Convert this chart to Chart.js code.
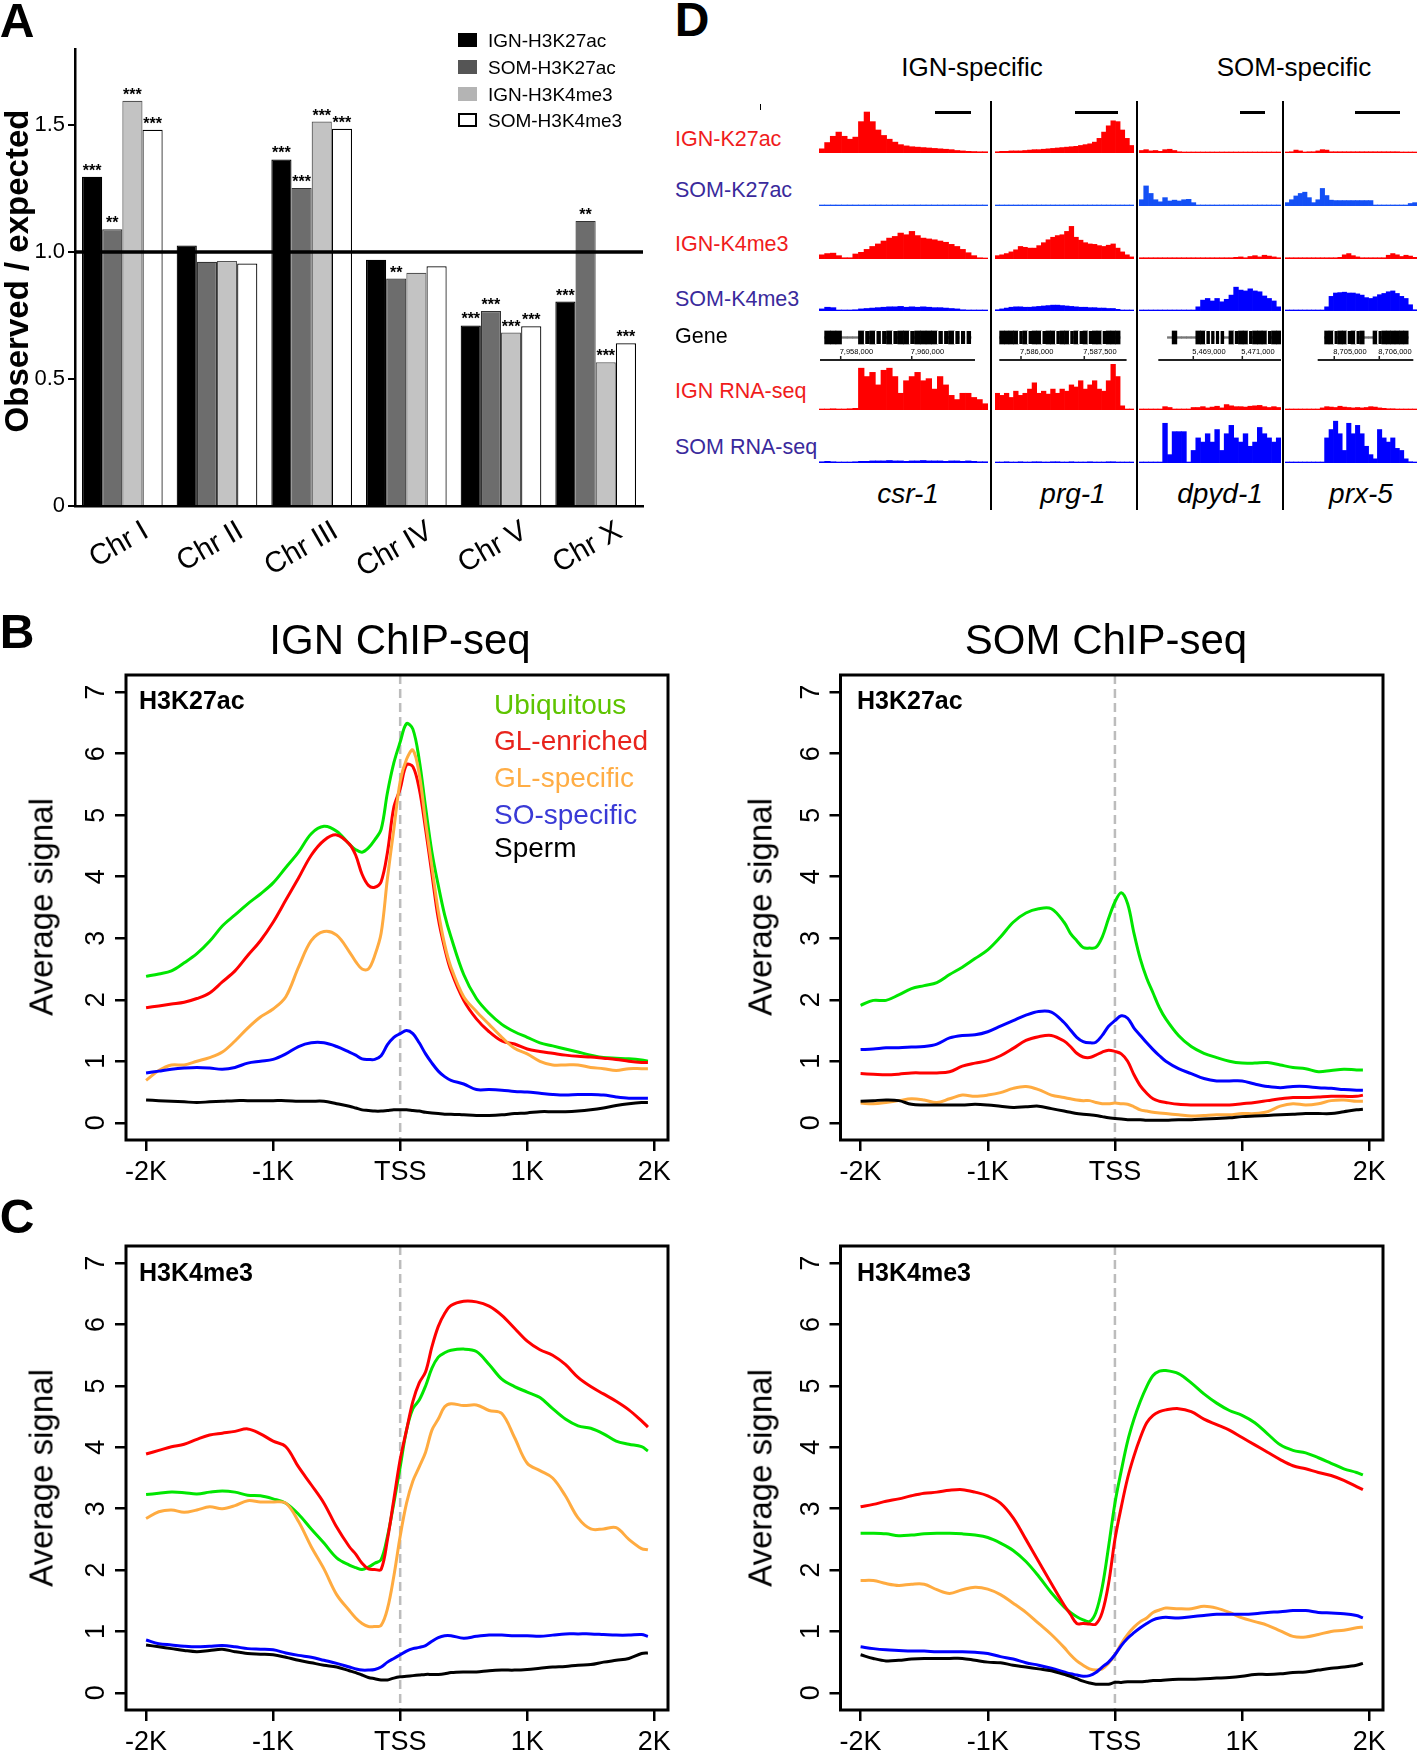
<!DOCTYPE html>
<html><head><meta charset="utf-8">
<script src="https://cdn.jsdelivr.net/npm/chart.js@4.4.0/dist/chart.umd.min.js"></script>
<style>
body{margin:0;background:#fff;}
#page{position:relative;width:1417px;height:1752px;overflow:hidden;background:#fff;font-family:"Liberation Sans",Arial,sans-serif;}
#page canvas{position:absolute;}
.t{position:absolute;white-space:nowrap;line-height:1;}
.ln{position:absolute;background:#000;}
</style></head><body><div id="page"></div>
<script>
/* ===== data: panel A ===== */
const chromosomes = ['Chr I', 'Chr II', 'Chr III', 'Chr IV', 'Chr V', 'Chr X'];
const ignK27acRatio = [1.297, 1.026, 1.365, 0.97, 0.711, 0.805];
const somK27acRatio = [1.09, 0.962, 1.253, 0.896, 0.768, 1.123];
const ignK4me3Ratio = [1.596, 0.965, 1.514, 0.919, 0.683, 0.566];
const somK4me3Ratio = [1.482, 0.955, 1.486, 0.944, 0.708, 0.641];
const ignK27acStars = ['***', '', '***', '', '***', '***'];
const somK27acStars = ['**', '', '***', '**', '***', '**'];
const ignK4me3Stars = ['***', '', '***', '', '***', '***'];
const somK4me3Stars = ['***', '', '***', '', '***', '***'];
const ratioTicks = [0, 0.5, 1.0, 1.5];
const ratioSeries = ['IGN-H3K27ac', 'SOM-H3K27ac', 'IGN-H3K4me3', 'SOM-H3K4me3'];

/* ===== data: panels B / C (average signal around TSS) ===== */
const profileX = [-2000,-1900,-1800,-1700,-1600,-1500,-1400,-1300,-1200,-1100,-1000,-900,-800,-700,-600,-500,
  -400,-350,-300,-250,-200,-150,-100,-50,0,50,100,150,200,250,300,350,400,
  500,600,700,800,900,1000,1100,1200,1300,1400,1500,1600,1700,1800,1900,1950];
const profileXTicks = [-2000, -1000, 0, 1000, 2000];
const profileXLabels = ['-2K', '-1K', 'TSS', '1K', '2K'];
const profileYTicks = [0, 1, 2, 3, 4, 5, 6, 7];
const geneClasses = ['Ubiquitous', 'GL-enriched', 'GL-specific', 'SO-specific', 'Sperm'];

// IGN H3K27ac
const ignK27Ubiq = [2.38,2.42,2.47,2.6,2.75,2.95,3.2,3.38,3.56,3.72,3.9,4.15,4.4,4.7,4.82,4.74,4.53,4.44,4.4,4.47,4.6,4.77,5.37,5.85,6.19,6.49,6.4,5.9,5.13,4.4,3.86,3.38,3.02,2.41,2.02,1.78,1.6,1.48,1.39,1.3,1.25,1.2,1.15,1.1,1.06,1.05,1.04,1.02,1.0];
const ignK27GLenr = [1.87,1.9,1.93,1.96,2.02,2.11,2.29,2.47,2.72,2.96,3.26,3.62,3.98,4.35,4.59,4.68,4.53,4.35,4.04,3.86,3.83,3.92,4.4,5.13,5.43,5.82,5.79,5.43,4.77,4.04,3.32,2.84,2.47,1.99,1.69,1.48,1.33,1.28,1.2,1.16,1.13,1.1,1.08,1.07,1.05,1.03,1.0,0.98,0.98];
const ignK27GLspec = [0.69,0.85,0.94,0.94,1.0,1.06,1.15,1.33,1.54,1.72,1.85,2.05,2.53,2.96,3.11,3.05,2.78,2.62,2.5,2.5,2.72,3.08,3.98,4.77,5.55,5.91,6.06,5.67,4.89,4.16,3.44,2.9,2.53,2.05,1.81,1.6,1.39,1.21,1.12,1.0,0.94,0.94,0.94,0.9,0.88,0.85,0.88,0.88,0.88];
const ignK27SOspec = [0.81,0.84,0.87,0.89,0.9,0.89,0.87,0.9,0.97,1.0,1.03,1.12,1.24,1.3,1.3,1.24,1.15,1.1,1.04,1.03,1.03,1.09,1.27,1.39,1.45,1.5,1.45,1.3,1.12,0.97,0.84,0.75,0.69,0.63,0.54,0.54,0.53,0.51,0.5,0.48,0.46,0.45,0.46,0.46,0.45,0.42,0.4,0.4,0.4];
const ignK27Sperm = [0.37,0.36,0.35,0.34,0.33,0.34,0.35,0.36,0.36,0.36,0.36,0.36,0.35,0.35,0.35,0.31,0.27,0.24,0.21,0.2,0.19,0.19,0.2,0.21,0.21,0.21,0.2,0.19,0.17,0.16,0.15,0.14,0.14,0.13,0.12,0.12,0.13,0.15,0.16,0.18,0.18,0.18,0.19,0.21,0.24,0.28,0.31,0.33,0.33];
// SOM H3K27ac
const somK27Ubiq = [1.91,1.99,1.99,2.08,2.18,2.23,2.28,2.41,2.53,2.67,2.81,3.02,3.26,3.41,3.48,3.48,3.26,3.08,2.96,2.85,2.84,2.85,3.02,3.32,3.59,3.74,3.56,3.08,2.66,2.35,2.11,1.87,1.69,1.42,1.24,1.13,1.06,1.0,0.97,0.97,0.98,0.94,0.9,0.88,0.83,0.85,0.87,0.86,0.86];
const somK27GLenr = [0.8,0.79,0.78,0.79,0.81,0.81,0.81,0.83,0.92,0.97,1.01,1.09,1.21,1.34,1.4,1.42,1.33,1.24,1.13,1.07,1.06,1.1,1.15,1.18,1.16,1.12,1.0,0.78,0.6,0.48,0.39,0.35,0.33,0.3,0.29,0.29,0.29,0.29,0.31,0.33,0.36,0.39,0.41,0.41,0.42,0.43,0.43,0.43,0.45];
const somK27GLspec = [0.32,0.31,0.33,0.36,0.39,0.37,0.33,0.39,0.45,0.43,0.45,0.49,0.56,0.59,0.54,0.45,0.41,0.39,0.37,0.36,0.36,0.33,0.31,0.31,0.32,0.31,0.3,0.26,0.21,0.19,0.17,0.16,0.15,0.13,0.11,0.12,0.13,0.13,0.15,0.15,0.18,0.27,0.31,0.29,0.31,0.36,0.37,0.35,0.35];
const somK27SOspec = [1.19,1.2,1.22,1.22,1.23,1.24,1.28,1.38,1.42,1.43,1.48,1.57,1.66,1.75,1.81,1.8,1.63,1.51,1.39,1.32,1.3,1.31,1.42,1.57,1.66,1.74,1.7,1.54,1.42,1.3,1.19,1.09,1.0,0.88,0.8,0.72,0.68,0.68,0.68,0.63,0.59,0.57,0.59,0.59,0.57,0.56,0.54,0.53,0.53];
const somK27Sperm = [0.35,0.36,0.37,0.36,0.3,0.29,0.29,0.29,0.29,0.3,0.29,0.27,0.25,0.26,0.27,0.23,0.19,0.17,0.15,0.14,0.13,0.12,0.1,0.08,0.07,0.06,0.05,0.05,0.05,0.04,0.04,0.04,0.04,0.05,0.05,0.06,0.07,0.08,0.1,0.11,0.12,0.13,0.14,0.15,0.15,0.15,0.18,0.21,0.22];
// IGN H3K4me3
const ignK4Ubiq = [3.23,3.25,3.27,3.26,3.24,3.27,3.29,3.27,3.22,3.21,3.16,3.09,2.91,2.67,2.44,2.2,2.08,2.04,2.01,2.05,2.11,2.17,2.55,3.09,3.68,4.28,4.63,4.77,5.0,5.29,5.47,5.54,5.58,5.6,5.56,5.35,5.11,4.99,4.9,4.81,4.63,4.46,4.35,4.31,4.22,4.1,4.05,4.01,3.94];
const ignK4GLenr = [3.89,3.95,4.01,4.05,4.13,4.2,4.23,4.26,4.3,4.22,4.1,4.01,3.68,3.39,3.09,2.7,2.38,2.26,2.11,2.02,2.01,2.01,2.5,3.15,3.8,4.28,4.75,5.05,5.23,5.64,5.97,6.18,6.31,6.38,6.37,6.3,6.15,5.94,5.73,5.59,5.5,5.35,5.14,4.99,4.87,4.75,4.61,4.43,4.33];
const ignK4GLspec = [2.84,2.95,2.98,2.94,2.98,3.03,3.0,3.05,3.13,3.11,3.11,3.09,2.79,2.38,2.02,1.6,1.34,1.22,1.13,1.08,1.08,1.1,1.37,1.9,2.55,3.09,3.45,3.68,3.92,4.28,4.46,4.66,4.71,4.68,4.69,4.6,4.55,4.16,3.74,3.62,3.5,3.21,2.85,2.67,2.67,2.69,2.5,2.35,2.33];
const ignK4SOspec = [0.86,0.8,0.78,0.76,0.75,0.76,0.77,0.75,0.72,0.71,0.7,0.65,0.61,0.58,0.53,0.48,0.42,0.39,0.37,0.37,0.38,0.42,0.5,0.56,0.62,0.68,0.72,0.74,0.77,0.84,0.9,0.93,0.93,0.89,0.92,0.94,0.94,0.93,0.93,0.92,0.94,0.96,0.96,0.96,0.95,0.94,0.94,0.95,0.92];
const ignK4Sperm = [0.78,0.75,0.72,0.69,0.67,0.69,0.71,0.67,0.64,0.63,0.62,0.58,0.53,0.49,0.45,0.42,0.36,0.33,0.29,0.25,0.23,0.21,0.21,0.24,0.26,0.27,0.28,0.29,0.3,0.3,0.3,0.31,0.33,0.34,0.34,0.36,0.37,0.37,0.38,0.4,0.42,0.43,0.45,0.46,0.5,0.53,0.56,0.64,0.65];
// SOM H3K4me3
const somK4Ubiq = [2.6,2.6,2.59,2.56,2.57,2.59,2.6,2.6,2.59,2.57,2.53,2.44,2.32,2.14,1.9,1.63,1.4,1.31,1.24,1.19,1.16,1.31,1.72,2.38,3.09,3.62,4.1,4.46,4.75,4.99,5.17,5.24,5.25,5.2,5.05,4.87,4.72,4.6,4.52,4.4,4.22,4.04,3.95,3.91,3.83,3.74,3.65,3.59,3.55];
const somK4GLenr = [3.03,3.07,3.12,3.16,3.21,3.25,3.27,3.3,3.31,3.27,3.21,3.09,2.85,2.5,2.14,1.78,1.43,1.28,1.13,1.13,1.12,1.12,1.31,1.78,2.5,3.03,3.5,3.86,4.16,4.4,4.52,4.58,4.61,4.63,4.58,4.46,4.37,4.28,4.16,4.04,3.92,3.8,3.7,3.65,3.59,3.54,3.46,3.36,3.31];
const somK4GLspec = [1.83,1.83,1.78,1.75,1.77,1.77,1.68,1.62,1.68,1.72,1.69,1.6,1.46,1.31,1.13,0.95,0.74,0.62,0.52,0.45,0.39,0.37,0.39,0.48,0.62,0.8,0.95,1.07,1.16,1.22,1.31,1.35,1.38,1.37,1.37,1.41,1.38,1.31,1.22,1.16,1.1,1.01,0.92,0.91,0.95,1.0,1.02,1.06,1.07];
const somK4SOspec = [0.75,0.72,0.7,0.69,0.68,0.68,0.67,0.67,0.67,0.66,0.64,0.59,0.55,0.49,0.45,0.4,0.34,0.31,0.29,0.27,0.28,0.33,0.42,0.5,0.62,0.77,0.89,0.98,1.06,1.13,1.19,1.22,1.23,1.22,1.24,1.26,1.28,1.28,1.28,1.29,1.31,1.32,1.34,1.34,1.31,1.3,1.29,1.26,1.22];
const somK4Sperm = [0.62,0.56,0.52,0.53,0.55,0.56,0.56,0.56,0.56,0.53,0.5,0.49,0.45,0.42,0.39,0.36,0.3,0.27,0.23,0.19,0.16,0.14,0.14,0.14,0.17,0.17,0.18,0.18,0.18,0.19,0.2,0.2,0.21,0.22,0.22,0.23,0.24,0.25,0.27,0.3,0.3,0.31,0.33,0.34,0.37,0.4,0.42,0.45,0.48];

/* ===== data: panel D (browser tracks, 30 bins per locus; order csr-1, prg-1, dpyd-1, prx-5) ===== */
const loci = ['csr-1', 'prg-1', 'dpyd-1', 'prx-5'];
const trackNames = ['IGN-K27ac', 'SOM-K27ac', 'IGN-K4me3', 'SOM-K4me3', 'IGN RNA-seq', 'SOM RNA-seq'];
const ignK27acCov = [
  [1.0,2.5,4.0,5.0,4.0,3.3,3.8,7.5,9.8,7.5,5.5,4.2,3.3,2.6,2.0,1.7,1.5,1.4,1.3,1.2,1.1,1.0,0.9,0.8,0.6,0.5,0.4,0.35,0.3,0.3],
  [0.3,0.4,0.4,0.5,0.5,0.5,0.6,0.7,0.8,0.8,0.9,1.0,1.1,1.2,1.3,1.4,1.5,1.6,1.8,2.0,2.2,2.6,3.5,5.0,6.5,7.7,7.5,5.5,3.5,1.8],
  [0.6,0.8,0.5,0.6,0.4,0.8,0.9,0.6,0.3,0.2,0.1,0.2,0.1,0.1,0.1,0.1,0.1,0.1,0.1,0.1,0.1,0.1,0.1,0.1,0.1,0.1,0.1,0.1,0.1,0.1],
  [0.2,0.3,0.7,0.5,0.2,0.3,0.3,0.5,0.8,0.7,0.3,0.3,0.3,0.3,0.3,0.3,0.3,0.3,0.3,0.3,0.3,0.3,0.3,0.3,0.3,0.3,0.1,0.1,0.1,0.1]
];
const somK27acCov = [
  [0.1,0.1,0.1,0.1,0.1,0.1,0.1,0.1,0.1,0.1,0.1,0.1,0.1,0.1,0.1,0.1,0.1,0.1,0.1,0.1,0.1,0.1,0.1,0.1,0.1,0.1,0.1,0.1,0.1,0.1],
  [0.1,0.1,0.1,0.1,0.1,0.1,0.1,0.1,0.1,0.1,0.1,0.1,0.1,0.1,0.1,0.1,0.1,0.1,0.1,0.1,0.1,0.1,0.1,0.1,0.1,0.1,0.1,0.1,0.1,0.1],
  [1.5,4.8,3.0,1.5,1.0,2.0,1.2,1.4,1.2,1.5,1.6,0.8,0.2,0.2,0.2,0.2,0.2,0.2,0.2,0.2,0.2,0.2,0.2,0.2,0.2,0.2,0.2,0.2,0.2,0.2],
  [0.8,1.5,2.4,3.0,3.3,2.0,0.8,1.5,4.2,2.5,1.4,1.3,1.3,1.3,1.3,1.3,1.3,1.3,1.3,1.3,0.2,0.2,0.2,0.2,0.2,0.2,0.2,0.2,0.6,0.8]
];
const ignK4me3Cov = [
  [1.0,1.3,1.4,0.8,0.3,0.3,1.2,1.6,2.3,3.0,3.6,4.3,5.0,5.4,6.2,5.8,6.6,5.6,5.0,4.8,4.6,4.3,4.0,3.5,3.0,2.3,1.5,0.8,0.3,0.1],
  [0.8,1.0,1.3,1.7,2.2,3.0,2.8,2.6,2.6,3.2,3.9,4.6,5.2,5.6,5.8,6.6,7.8,5.2,4.5,3.9,3.6,3.5,3.2,3.0,3.3,3.6,2.6,1.7,1.0,0.5],
  [0.3,0.3,0.3,0.3,0.3,0.3,0.3,0.3,0.3,0.3,0.3,0.3,0.3,0.3,0.3,0.3,0.3,0.3,0.3,0.3,0.4,0.5,0.3,0.6,0.8,0.5,0.9,0.7,0.5,0.3],
  [0.3,0.3,0.3,0.3,0.3,0.3,0.3,0.3,0.3,0.3,0.3,0.3,0.4,1.0,1.3,0.8,0.5,0.3,0.3,0.3,0.3,0.3,0.3,0.9,1.3,1.0,0.6,0.9,0.7,0.4]
];
const somK4me3Cov = [
  [0.5,0.9,0.8,0.2,0.1,0.1,0.3,0.5,0.6,0.7,0.8,0.9,1.0,1.0,1.1,0.9,1.0,0.9,1.0,0.9,0.8,0.8,0.7,0.6,0.5,0.3,0.2,0.1,0.1,0.1],
  [0.3,0.5,0.7,0.9,1.0,1.0,0.9,0.9,1.0,1.1,1.2,1.3,1.4,1.4,1.3,1.2,1.1,1.0,0.9,0.9,0.8,0.8,0.7,0.7,0.6,0.6,0.4,0.2,0.1,0.1],
  [0.2,0.2,0.2,0.2,0.2,0.2,0.2,0.2,0.2,0.2,0.2,0.2,1.0,2.6,3.0,2.4,3.0,2.2,2.8,3.8,5.7,5.0,4.8,5.3,4.8,4.6,3.6,3.0,2.4,1.0],
  [0.2,0.2,0.2,0.2,0.2,0.2,0.2,0.2,0.2,1.0,3.5,4.3,4.4,4.5,4.3,4.3,4.1,3.8,3.2,3.0,3.4,3.9,4.2,4.6,4.8,4.2,3.5,3.0,1.5,0.3]
];
const ignRnaCov = [
  [0.2,0.2,0.3,0.2,0.2,0.3,0.4,10,8,9,6,9.5,10,8,4,7,8,9,7,7.5,5,8,6,3.5,2.5,4,4,3,2.5,1.5],
  [4,3.5,4,3,4.5,3.5,4,5,6.5,4,4.5,3.8,5,4,5,4.5,6,5.5,7,5,6,7,5,4.5,7,11,8,1.0,0.2,0.2],
  [0.1,0.1,0.1,0.1,0.1,0.8,0.6,0.1,0.1,0.1,0.1,0.6,0.6,0.8,0.5,0.7,0.9,0.5,1.3,1.0,0.8,0.8,0.7,0.9,1.0,1.1,0.8,0.6,0.8,0.6],
  [0.1,0.1,0.1,0.1,0.1,0.1,0.1,0.1,0.5,0.8,0.7,0.6,0.9,0.7,0.6,0.5,0.6,0.5,0.6,0.8,0.7,0.5,0.4,0.3,0.3,0.2,0.2,0.1,0.1,0.1]
];
const somRnaCov = [
  [0.3,0.4,0.3,0.1,0.1,0.1,0.3,0.4,0.4,0.5,0.5,0.5,0.6,0.5,0.5,0.4,0.5,0.5,0.6,0.5,0.5,0.5,0.4,0.5,0.5,0.4,0.5,0.4,0.3,0.3],
  [0.2,0.2,0.3,0.2,0.2,0.3,0.2,0.2,0.3,0.3,0.2,0.2,0.3,0.3,0.2,0.2,0.3,0.2,0.2,0.2,0.3,0.2,0.2,0.2,0.3,0.3,0.2,0.1,0.1,0.1],
  [0.1,0.1,0.1,0.1,0.1,9.5,2,7.5,7.5,7.5,0.2,3,6,5,7,5,8,3,7,9,6,5,7,4,5,8.5,7,6,5,6],
  [0.2,0.2,0.2,0.2,0.2,0.2,0.2,0.2,0.2,6,8,10,7,3,9.5,7,9,7,4,2,1,8,6,5,6,3.5,3,1.0,0.3,0.2]
];
// gene model per bin: 0 none, 1 intron, 2 exon, 3 exon after a splice gap
const geneModel = [
  [0,2,2,2,1,1,1,2,3,2,3,3,2,3,2,2,3,2,2,2,2,3,3,2,3,3,3,0,0,0],
  [0,2,2,2,2,3,2,3,2,2,3,2,2,3,2,2,3,2,3,2,3,2,2,3,2,2,2,0,0,0],
  [0,0,0,0,0,0,1,2,1,1,1,1,2,2,3,3,3,3,1,2,3,2,2,3,2,2,2,3,2,2],
  [0,0,0,0,0,0,0,0,0,2,2,3,2,2,3,2,3,2,1,1,2,3,2,2,2,2,2,2,0,0]
];
// genomic ruler, in bin units
const rulerSpan = [[-0.32, 27.19], [0.43, 27.9], [3.58, 29.65], [6.93, 28.66]];
const rulerTickBins = [[3.35, 15.96], [5.11, 18.77], [10.97, 21.33], [10.7, 20.93]];
const rulerTickLabels = [['7,958,000', '7,960,000'], ['7,586,000', '7,587,500'], ['5,469,000', '5,471,000'], ['8,705,000', '8,706,000']];

/* ===== page helpers ===== */
const FONT = "'Liberation Sans', Arial, sans-serif";
Chart.defaults.font.family = FONT;
Chart.defaults.color = '#000';
const page = document.getElementById('page');

function addCanvas(l, t, w, h) {
    const c = document.createElement('canvas');
    c.width = w; c.height = h;
    c.style.left = l + 'px'; c.style.top = t + 'px';
    c.style.width = w + 'px'; c.style.height = h + 'px';
    page.appendChild(c);
    return c;
}
function addText(txt, x, y, o = {}) {
    const d = document.createElement('div');
    d.className = 't';
    d.textContent = txt;
    d.style.left = x + 'px'; d.style.top = y + 'px';
    d.style.fontSize = (o.size || 20) + 'px';
    if (o.bold) d.style.fontWeight = 'bold';
    if (o.italic) d.style.fontStyle = 'italic';
    d.style.color = o.color || '#000';
    const ax = o.left ? '0' : '-50%';
    d.style.transform = `translate(${ax},-50%)` + (o.rotate ? ` rotate(${o.rotate}deg)` : '');
    page.appendChild(d);
    return d;
}
function addLine(l, t, w, h) {
    const d = document.createElement('div');
    d.className = 'ln';
    d.style.left = l + 'px'; d.style.top = t + 'px'; d.style.width = w + 'px'; d.style.height = h + 'px';
    page.appendChild(d);
}
const baseOpts = { responsive: false, animation: false, devicePixelRatio: 1, events: [] };

/* ===== panel A ===== */
const starSets = [ignK27acStars, somK27acStars, ignK4me3Stars, somK4me3Stars];
const refLinePlugin = {
    id: 'refLine',
    afterDatasetsDraw(chart) {
        const { ctx, chartArea: a, scales: { y } } = chart;
        const py = y.getPixelForValue(1);
        ctx.save();
        ctx.strokeStyle = '#000'; ctx.lineWidth = 3.5;
        ctx.beginPath(); ctx.moveTo(a.left, py); ctx.lineTo(a.right, py); ctx.stroke();
        ctx.font = 'bold 16px ' + FONT; ctx.textAlign = 'center'; ctx.textBaseline = 'alphabetic'; ctx.fillStyle = '#000';
        starSets.forEach((stars, i) => {
            chart.getDatasetMeta(i).data.forEach((bar, j) => { if (stars[j]) ctx.fillText(stars[j], bar.x, bar.y - 1); });
        });
        ctx.restore();
    }
};
const barFill = ['#000000', '#6d6d6d', '#c3c3c3', '#ffffff'];
const barEdge = ['#000000', '#333333', '#555555', '#000000'];
new Chart(addCanvas(0, 0, 660, 600), {
    type: 'bar',
    data: {
        labels: chromosomes,
        datasets: [ignK27acRatio, somK27acRatio, ignK4me3Ratio, somK4me3Ratio].map((d, i) => ({
            label: ratioSeries[i], data: d, backgroundColor: barFill[i], borderColor: barEdge[i], borderWidth: 1.2
        }))
    },
    options: {
        ...baseOpts,
        layout: { padding: { left: 0, top: 49, right: 17, bottom: 0 } },
        plugins: { legend: { display: false }, tooltip: { enabled: false } },
        datasets: { bar: { categoryPercentage: 0.852, barPercentage: 1 } },
        scales: {
            x: {
                grid: { display: false, drawTicks: false },
                border: { color: '#000', width: 2.5 },
                ticks: { font: { size: 29 }, color: '#000', minRotation: 30, maxRotation: 30, labelOffset: 24, padding: 8, autoSkip: false },
                afterFit: s => { s.height = 94; }
            },
            y: {
                min: 0, max: 1.8,
                afterBuildTicks: s => { s.ticks = ratioTicks.map(v => ({ value: v })); },
                ticks: { callback: v => (v === 0 ? '0' : v.toFixed(1)), font: { size: 22 }, color: '#000', padding: 3 },
                grid: { drawOnChartArea: false, tickLength: 7, color: '#000', lineWidth: 2 },
                border: { color: '#000', width: 2.5 },
                afterFit: s => { s.width = 75; }
            }
        }
    },
    plugins: [refLinePlugin]
});
addText('A', 17, 21, { size: 48, bold: true });
addText('Observed / expected', 16, 271, { size: 33, bold: true, rotate: -90 });
const legendRowsA = [40, 67, 94, 120];
const legendFillA = ['#000000', '#555555', '#b4b4b4', '#ffffff'];
ratioSeries.forEach((name, i) => {
    const sq = document.createElement('div');
    sq.style.cssText = `position:absolute;left:458px;top:${legendRowsA[i] - 7}px;width:19px;height:14px;box-sizing:border-box;background:${legendFillA[i]};border:${i === 3 ? '2.5px solid #000' : '0'};`;
    page.appendChild(sq);
    addText(name, 488, legendRowsA[i], { size: 19, left: true });
});

/* ===== panels B / C ===== */
const lineColors = ['#00e600', '#ff0000', '#ffab40', '#0000ff', '#000000'];
const framePlugin = {
    id: 'frame',
    beforeDatasetsDraw(chart) {
        const { ctx, chartArea: a, scales: { x } } = chart;
        const px = x.getPixelForValue(0);
        ctx.save();
        ctx.strokeStyle = '#bcbcbc'; ctx.lineWidth = 2.5; ctx.setLineDash([9, 5]);
        ctx.beginPath(); ctx.moveTo(px, a.top); ctx.lineTo(px, a.bottom); ctx.stroke();
        ctx.restore();
    },
    afterDraw(chart) {
        const { ctx, chartArea: a, scales: { y } } = chart;
        ctx.save();
        ctx.strokeStyle = '#000'; ctx.lineWidth = 3;
        ctx.strokeRect(a.left, a.top, a.right - a.left, a.bottom - a.top);
        ctx.fillStyle = '#000'; ctx.font = '27px ' + FONT; ctx.textAlign = 'center'; ctx.textBaseline = 'middle';
        y.ticks.forEach(t => {
            ctx.save();
            ctx.translate(a.left - 29, y.getPixelForValue(t.value));
            ctx.rotate(-Math.PI / 2);
            ctx.fillText(String(t.value), 0, 0);
            ctx.restore();
        });
        ctx.restore();
    }
};
function profileChart(rect, area, series) {
    const cv = addCanvas(rect.left, rect.top, rect.width, rect.height);
    return new Chart(cv, {
        type: 'line',
        data: {
            datasets: series.map((vals, k) => ({
                label: geneClasses[k],
                data: vals.map((v, i) => ({ x: profileX[i], y: v })),
                borderColor: lineColors[k], borderWidth: 3, pointRadius: 0, tension: 0.35, fill: false
            })).reverse()
        },
        options: {
            ...baseOpts,
            layout: { padding: { left: 0, top: area.top - rect.top, right: rect.left + rect.width - area.right, bottom: 0 } },
            plugins: { legend: { display: false }, tooltip: { enabled: false } },
            scales: {
                x: {
                    type: 'linear', min: -2158, max: 2108,
                    afterBuildTicks: s => { s.ticks = profileXTicks.map(v => ({ value: v })); },
                    ticks: { callback: (v, i) => profileXLabels[i], font: { size: 27 }, color: '#000', padding: 5, maxRotation: 0, autoSkip: false },
                    grid: { drawOnChartArea: false, tickLength: 11, color: '#000', lineWidth: 2.5 },
                    border: { display: false },
                    afterFit: s => { s.height = rect.top + rect.height - area.bottom; }
                },
                y: {
                    min: -0.28, max: 7.28,
                    afterBuildTicks: s => { s.ticks = profileYTicks.map(v => ({ value: v })); },
                    ticks: { display: false },
                    grid: { drawOnChartArea: false, tickLength: 11, color: '#000', lineWidth: 2.5 },
                    border: { display: false },
                    afterFit: s => { s.width = area.left - rect.left; }
                }
            }
        },
        plugins: [framePlugin]
    });
}
profileChart({ left: 0, top: 660, width: 700, height: 540 }, { left: 126, right: 668, top: 675, bottom: 1140 },
    [ignK27Ubiq, ignK27GLenr, ignK27GLspec, ignK27SOspec, ignK27Sperm]);
profileChart({ left: 700, top: 660, width: 717, height: 540 }, { left: 840.5, right: 1383, top: 675, bottom: 1140 },
    [somK27Ubiq, somK27GLenr, somK27GLspec, somK27SOspec, somK27Sperm]);
profileChart({ left: 0, top: 1230, width: 700, height: 522 }, { left: 126, right: 668, top: 1246, bottom: 1710 },
    [ignK4Ubiq, ignK4GLenr, ignK4GLspec, ignK4SOspec, ignK4Sperm]);
profileChart({ left: 700, top: 1230, width: 717, height: 522 }, { left: 840.5, right: 1383, top: 1246, bottom: 1710 },
    [somK4Ubiq, somK4GLenr, somK4GLspec, somK4SOspec, somK4Sperm]);

addText('B', 17, 632, { size: 48, bold: true });
addText('C', 17, 1217, { size: 48, bold: true });
addText('IGN ChIP-seq', 400, 640, { size: 42 });
addText('SOM ChIP-seq', 1106, 640, { size: 42 });
[[41, 907], [760, 907], [41, 1478], [760, 1478]].forEach(p => addText('Average signal', p[0], p[1], { size: 33, rotate: -90 }));
addText('H3K27ac', 139, 700, { size: 25, bold: true, left: true });
addText('H3K27ac', 857, 700, { size: 25, bold: true, left: true });
addText('H3K4me3', 139, 1272, { size: 25, bold: true, left: true });
addText('H3K4me3', 857, 1272, { size: 25, bold: true, left: true });
const legendTextColors = ['#5ec400', '#e8231c', '#ffad45', '#3a3ad6', '#000000'];
[705, 741, 778, 815, 848].forEach((y, k) => addText(geneClasses[k], 494, y, { size: 28, color: legendTextColors[k], left: true }));

/* ===== panel D ===== */
const colLeft = [819, 995, 1139, 1285];
const colRight = [988, 1134, 1281, 1417];
const trackBase = [153, 206, 259, 311, 410, 463];
const trackColors = ['#ff0000', '#1450f5', '#ff0000', '#0000ff', '#ff0000', '#0000ff'];
const trackSets = [ignK27acCov, somK27acCov, ignK4me3Cov, somK4me3Cov, ignRnaCov, somRnaCov];
const bins = ignK27acCov[0].map((_, i) => i);
const hiddenScales = (yMin, yMax) => ({ x: { display: false }, y: { display: false, min: yMin, max: yMax } });

trackSets.forEach((set, t) => {
    set.forEach((vals, c) => {
        new Chart(addCanvas(colLeft[c], trackBase[t] - 46, colRight[c] - colLeft[c], 46), {
            type: 'bar',
            data: { labels: bins, datasets: [{ data: vals, backgroundColor: trackColors[t], borderWidth: 0, minBarLength: 1, barPercentage: 1, categoryPercentage: 1 }] },
            options: { ...baseOpts, layout: { padding: 0 }, plugins: { legend: { display: false }, tooltip: { enabled: false } }, scales: hiddenScales(0, 11) }
        });
    });
});

const rulerPlugin = {
    id: 'ruler',
    afterDraw(chart, args, opts) {
        const { ctx, scales: { x, y } } = chart;
        const py = y.getPixelForValue(-3.46);
        ctx.save();
        ctx.strokeStyle = '#222'; ctx.lineWidth = 2;
        ctx.beginPath(); ctx.moveTo(x.getPixelForValue(opts.span[0]), py); ctx.lineTo(x.getPixelForValue(opts.span[1]), py); ctx.stroke();
        ctx.lineWidth = 1.5;
        ctx.font = '7.5px ' + FONT; ctx.fillStyle = '#000'; ctx.textAlign = 'left'; ctx.textBaseline = 'middle';
        opts.ticks.forEach((b, i) => {
            const px = x.getPixelForValue(b);
            ctx.beginPath(); ctx.moveTo(px, py); ctx.lineTo(px, py - 4); ctx.stroke();
            ctx.fillText(opts.labels[i], px - 1, py - 8);
        });
        ctx.restore();
    }
};
geneModel.forEach((codes, c) => {
    new Chart(addCanvas(colLeft[c], 325, colRight[c] - colLeft[c], 45), {
        type: 'bar',
        data: {
            labels: bins,
            datasets: [
                {
                    data: codes.map(v => (v >= 2 ? [-1, 1] : null)), backgroundColor: '#000', borderColor: '#fff', borderSkipped: false,
                    borderWidth: ctx => (codes[ctx.dataIndex] === 3 ? { left: 1.5, right: 0, top: 0, bottom: 0 } : 0),
                    grouped: false, barPercentage: 1, categoryPercentage: 1
                },
                { data: codes.map(v => (v >= 1 ? [-0.13, 0.13] : null)), backgroundColor: '#777', borderWidth: 0, grouped: false, barPercentage: 1, categoryPercentage: 1 }
            ]
        },
        options: {
            ...baseOpts, layout: { padding: 0 },
            plugins: { legend: { display: false }, tooltip: { enabled: false }, ruler: { span: rulerSpan[c], ticks: rulerTickBins[c], labels: rulerTickLabels[c] } },
            scales: hiddenScales(-5, 1.92)
        },
        plugins: [rulerPlugin]
    });
});

addText('D', 692, 20, { size: 48, bold: true });
addText('IGN-specific', 972, 67, { size: 26 });
addText('SOM-specific', 1294, 67, { size: 26 });
const trackLabelY = [140, 191, 245, 300, 392, 448];
const trackLabelColors = ['#f01c1c', '#3a2a9c', '#f01c1c', '#3a2a9c', '#f01c1c', '#3a2a9c'];
trackNames.forEach((n, t) => addText(n, 675, trackLabelY[t], { size: 21.5, color: trackLabelColors[t], left: true }));
addText('Gene', 675, 337, { size: 21.5, left: true });
[908, 1073, 1220, 1361].forEach((x, c) => addText(loci[c], x, 494, { size: 28, italic: true }));
[991, 1137, 1283].forEach(x => addLine(x - 0.75, 101, 1.5, 409));
[[935, 971], [1075, 1118], [1240, 1265], [1355, 1400]].forEach(s => addLine(s[0], 111, s[1] - s[0], 2.5));
addLine(760, 104, 1, 6);
</script>
</body></html>
